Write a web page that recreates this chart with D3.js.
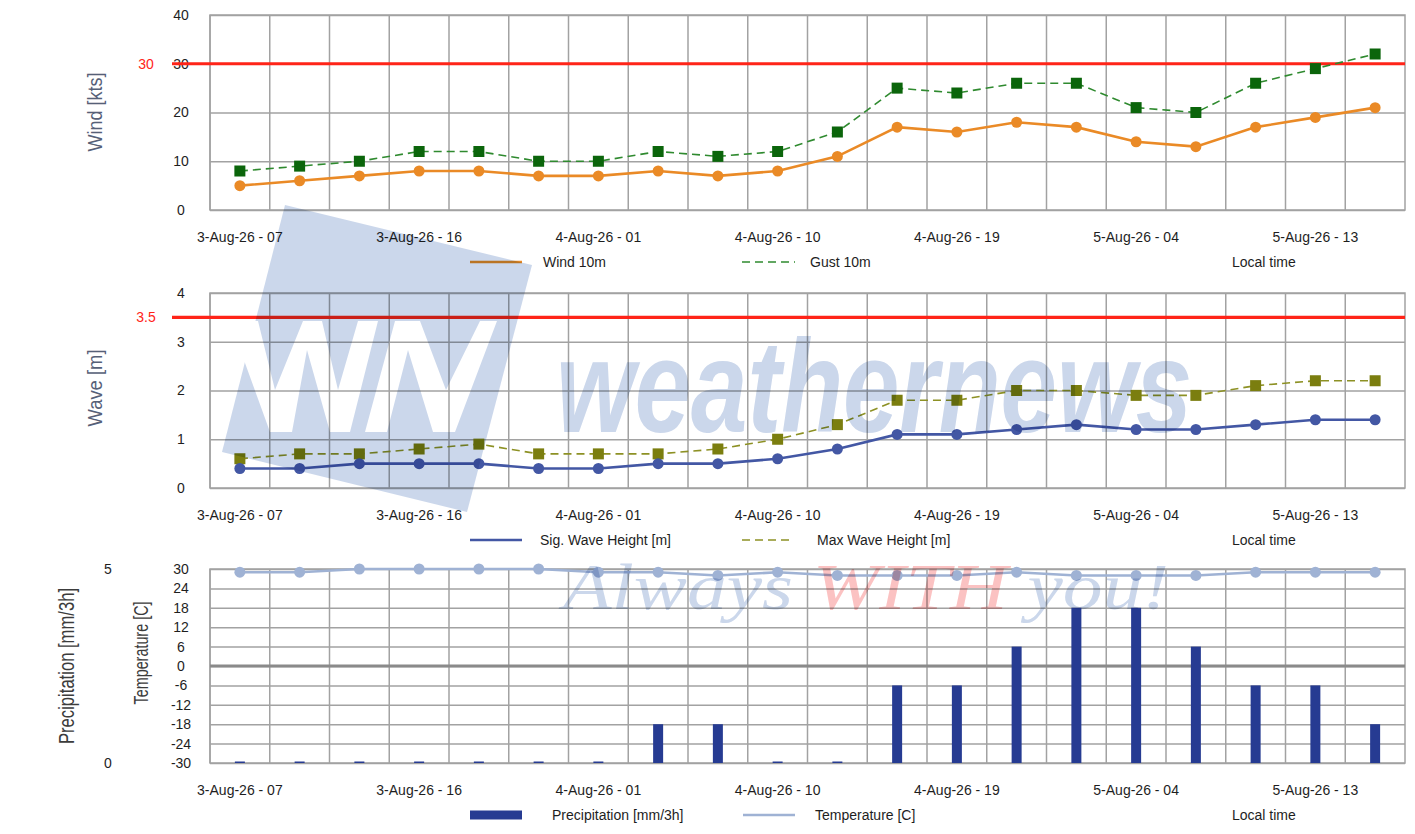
<!DOCTYPE html>
<html>
<head>
<meta charset="utf-8">
<script src="https://cdn.jsdelivr.net/npm/d3@7"></script>
<style>
  body { margin: 0; background: #fff; }
  svg { display: block; font-family: "Liberation Sans", Arial, sans-serif; }
</style>
</head>
<body>
<div id="chart"></div>
<script>
// Forecast time steps (3-hourly, local time)
var times = ["3-Aug-26 - 07", "3-Aug-26 - 10", "3-Aug-26 - 13", "3-Aug-26 - 16", "3-Aug-26 - 19",
    "3-Aug-26 - 22", "4-Aug-26 - 01", "4-Aug-26 - 04", "4-Aug-26 - 07", "4-Aug-26 - 10",
    "4-Aug-26 - 13", "4-Aug-26 - 16", "4-Aug-26 - 19", "4-Aug-26 - 22", "5-Aug-26 - 01",
    "5-Aug-26 - 04", "5-Aug-26 - 07", "5-Aug-26 - 10", "5-Aug-26 - 13", "5-Aug-26 - 16"];

var windSpeed = [5, 6, 7, 8, 8, 7, 7, 8, 7, 8, 11, 17, 16, 18, 17, 14, 13, 17, 19, 21];
var windGust = [8, 9, 10, 12, 12, 10, 10, 12, 11, 12, 16, 25, 24, 26, 26, 21, 20, 26, 29, 32];
var waveSig = [0.4, 0.4, 0.5, 0.5, 0.5, 0.4, 0.4, 0.5, 0.5, 0.6, 0.8, 1.1, 1.1, 1.2, 1.3, 1.2, 1.2, 1.3, 1.4, 1.4];
var waveMax = [0.6, 0.7, 0.7, 0.8, 0.9, 0.7, 0.7, 0.7, 0.8, 1.0, 1.3, 1.8, 1.8, 2.0, 2.0, 1.9, 1.9, 2.1, 2.2, 2.2];
var precip = [0, 0, 0, 0, 0, 0, 0, 1, 1, 0, 0, 2, 2, 3, 4, 4, 3, 2, 2, 1];
var temperature = [29, 29, 30, 30, 30, 30, 29, 29, 28, 29, 28, 28, 28, 29, 28, 28, 28, 29, 29, 29];

var windTicks = [0, 10, 20, 30, 40];
var waveTicks = [0, 1, 2, 3, 4];
var tempTicks = [-30, -24, -18, -12, -6, 0, 6, 12, 18, 24, 30];
var precipTicks = [0, 5];
var windLimit = 30;
var waveLimit = 3.5;

/**** LAYOUT ****/
var width = 1415, height = 834;
var x0 = 210, x1 = 1405;
var gridColor = "#a2a2a2";

var svg = d3.select("#chart").append("svg")
    .attr("width", width)
    .attr("height", height);

var x = d3.scaleBand().domain(times).range([x0, x1]);
function cx(d, i) { return x(times[i]) + x.bandwidth() / 2; }

var labelTimes = times.filter(function(d, i) { return i % 3 === 0; });

// grid, border, x labels for one panel
function panelFrame(y, ticks, top, bottom) {
    var g = svg.append("g");

    // horizontal grid
    g.append("g")
        .attr("transform", "translate(" + x0 + ",0)")
        .call(d3.axisLeft(y).tickValues(ticks).tickSize(-(x1 - x0)).tickFormat(""))
        .call(function(a) { a.select(".domain").remove(); })
        .selectAll("line")
        .attr("stroke", gridColor)
        .attr("stroke-width", 1.5);

    // vertical grid on band edges
    g.selectAll(".vgrid")
        .data(times)
        .enter()
        .append("line")
        .attr("class", "vgrid")
        .attr("x1", function(d) { return x(d); })
        .attr("x2", function(d) { return x(d); })
        .attr("y1", top)
        .attr("y2", bottom)
        .attr("stroke", gridColor)
        .attr("stroke-width", 1.5);

    g.append("rect")
        .attr("x", x0)
        .attr("y", top)
        .attr("width", x1 - x0)
        .attr("height", bottom - top)
        .attr("fill", "none")
        .attr("stroke", gridColor)
        .attr("stroke-width", 1.5);

    // x labels
    g.append("g")
        .attr("transform", "translate(0," + bottom + ")")
        .call(d3.axisBottom(x).tickValues(labelTimes).tickSize(0).tickPadding(22))
        .call(function(a) { a.select(".domain").remove(); })
        .selectAll("text")
        .attr("font-size", 14)
        .attr("font-family", "Liberation Sans, Arial, sans-serif")
        .attr("fill", "#1e1e1e");
    return g;
}

function yLabels(y, ticks, xPos) {
    svg.append("g")
        .selectAll("text")
        .data(ticks)
        .enter()
        .append("text")
        .attr("x", xPos)
        .attr("y", function(d) { return y(d); })
        .attr("dy", "0.35em")
        .attr("text-anchor", "middle")
        .attr("font-size", 14)
        .attr("fill", "#1e1e1e")
        .text(function(d) { return d; });
}

function axisTitle(text, xPos, yPos, len, size, color) {
    svg.append("text")
        .attr("transform", "translate(" + xPos + "," + yPos + ") rotate(-90)")
        .attr("text-anchor", "middle")
        .attr("dy", "0.35em")
        .attr("font-size", size)
        .attr("textLength", len)
        .attr("lengthAdjust", "spacingAndGlyphs")
        .attr("fill", color)
        .text(text);
}

function limitLine(y, v) {
    svg.append("line")
        .attr("x1", 172)
        .attr("x2", x1)
        .attr("y1", y(v))
        .attr("y2", y(v))
        .attr("stroke", "#ff2418")
        .attr("stroke-width", 3.2);
    svg.append("text")
        .attr("x", 146)
        .attr("y", y(v))
        .attr("dy", "0.35em")
        .attr("text-anchor", "middle")
        .attr("font-size", 14)
        .attr("fill", "#ff2418")
        .text(v);
}

function seriesLine(y, values, color, widthPx, dash) {
    var line = d3.line()
        .x(function(d, i) { return cx(d, i); })
        .y(function(d) { return y(d); });
    svg.append("path")
        .datum(values)
        .attr("d", line)
        .attr("fill", "none")
        .attr("stroke", color)
        .attr("stroke-width", widthPx)
        .attr("stroke-dasharray", dash || null);
}

function circles(y, values, color, r) {
    svg.append("g")
        .selectAll("circle")
        .data(values)
        .enter()
        .append("circle")
        .attr("cx", function(d, i) { return cx(d, i); })
        .attr("cy", function(d) { return y(d); })
        .attr("r", r)
        .attr("fill", color);
}

function squares(y, values, color, s) {
    svg.append("g")
        .selectAll("rect")
        .data(values)
        .enter()
        .append("rect")
        .attr("x", function(d, i) { return cx(d, i) - s / 2; })
        .attr("y", function(d) { return y(d) - s / 2; })
        .attr("width", s)
        .attr("height", s)
        .attr("fill", color);
}

function legend(yPos, items) {
    var g = svg.append("g");
    items.forEach(function(it) {
        if (it.type === "bar") {
            g.append("rect")
                .attr("x", it.lx0)
                .attr("y", yPos - 4.5)
                .attr("width", it.lx1 - it.lx0)
                .attr("height", 9)
                .attr("fill", it.color);
        } else {
            g.append("line")
                .attr("x1", it.lx0)
                .attr("x2", it.lx1)
                .attr("y1", yPos)
                .attr("y2", yPos)
                .attr("stroke", it.color)
                .attr("stroke-width", it.w)
                .attr("stroke-dasharray", it.dash || null);
        }
        g.append("text")
            .attr("x", it.tx)
            .attr("y", yPos)
            .attr("dy", "0.35em")
            .attr("font-size", 14)
            .attr("fill", "#1e1e1e")
            .text(it.label);
    });
    g.append("text")
        .attr("x", 1232)
        .attr("y", yPos)
        .attr("dy", "0.35em")
        .attr("font-size", 14)
        .attr("fill", "#1e1e1e")
        .text("Local time");
}

/**** WIND ****/
var yWind = d3.scaleLinear().domain([0, 40]).range([210, 15]);
panelFrame(yWind, windTicks, 15, 210);
yLabels(yWind, windTicks, 181);
axisTitle("Wind [kts]", 95, 112, 79, 20, "#566077");
limitLine(yWind, windLimit);
seriesLine(yWind, windGust, "#2f8a2f", 1.6, "8,5");
squares(yWind, windGust, "#0b650b", 11);
seriesLine(yWind, windSpeed, "#ea8a26", 2.6);
circles(yWind, windSpeed, "#ea8a26", 5.5);
legend(262, [
    {type: "line", lx0: 470, lx1: 522, color: "#ea8a26", w: 2.6, tx: 543, label: "Wind 10m"},
    {type: "line", lx0: 742, lx1: 795, color: "#2f8a2f", w: 1.6, dash: "8,5", tx: 810, label: "Gust 10m"}
]);

/**** WAVE ****/
var yWave = d3.scaleLinear().domain([0, 4]).range([488, 293]);
panelFrame(yWave, waveTicks, 293, 488);
yLabels(yWave, waveTicks, 181);
axisTitle("Wave [m]", 95, 388, 77, 20, "#566077");
limitLine(yWave, waveLimit);
seriesLine(yWave, waveMax, "#8d9124", 1.6, "8,5");
squares(yWave, waveMax, "#7b7e0f", 11);
seriesLine(yWave, waveSig, "#4357a4", 2.6);
circles(yWave, waveSig, "#4357a4", 5.5);
legend(540, [
    {type: "line", lx0: 470, lx1: 522, color: "#4357a4", w: 2.6, tx: 540, label: "Sig. Wave Height [m]"},
    {type: "line", lx0: 742, lx1: 794, color: "#8d9124", w: 1.6, dash: "8,5", tx: 817, label: "Max Wave Height [m]"}
]);

/**** PRECIPITATION & TEMPERATURE ****/
var yTemp = d3.scaleLinear().domain([-30, 30]).range([763, 569]);
var yPrecip = d3.scaleLinear().domain([0, 5]).range([763, 569]);
panelFrame(yTemp, tempTicks, 569, 763);

// zero line of temperature axis
svg.append("line")
    .attr("x1", x0)
    .attr("x2", x1)
    .attr("y1", yTemp(0))
    .attr("y2", yTemp(0))
    .attr("stroke", "#8a8a8a")
    .attr("stroke-width", 3);

yLabels(yTemp, tempTicks, 181);
yLabels(yPrecip, precipTicks, 108);
axisTitle("Precipitation [mm/3h]", 66, 666, 156, 22, "#3c3c3c");
axisTitle("Temperature [C]", 141, 653, 103, 21, "#3c3c3c");

var barW = 10;
svg.append("g")
    .selectAll("rect")
    .data(precip)
    .enter()
    .append("rect")
    .attr("x", function(d, i) { return cx(d, i) - barW / 2; })
    .attr("y", function(d) { return Math.min(yPrecip(d), yPrecip(0) - 1.5); })
    .attr("width", barW)
    .attr("height", function(d) { return Math.max(yPrecip(0) - yPrecip(d), 1.5); })
    .attr("fill", "#263b92");

seriesLine(yTemp, temperature, "#9fb2d4", 2.6);
circles(yTemp, temperature, "#9fb2d4", 5.5);
legend(815, [
    {type: "bar", lx0: 470, lx1: 522, color: "#263b92", tx: 552, label: "Precipitation [mm/3h]"},
    {type: "line", lx0: 743, lx1: 795, color: "#9fb2d4", w: 2.6, tx: 815, label: "Temperature [C]"}
]);

/**** WATERMARK ****/
var defs = svg.append("defs");
var mask = defs.append("mask").attr("id", "wnMask");
mask.append("polygon")
    .attr("points", "285,205 532,265 467,512 222,452")
    .attr("fill", "#fff");
// W and N cut out of the logo block
mask.append("polygon")
    .attr("points", "236,321 258,321 275,390 303,321 322,321 338,390 358,321 378,321 350,432 330,432 307,350 292,432 270,432 245,363")
    .attr("fill", "#000");
mask.append("polygon")
    .attr("points", "395,321 420,321 446,390 480,321 497,321 455,432 433,432 408,350 387,432 365,432")
    .attr("fill", "#000");

var wm = svg.append("g").style("mix-blend-mode", "multiply");
wm.append("rect")
    .attr("x", 200)
    .attr("y", 190)
    .attr("width", 350)
    .attr("height", 340)
    .attr("fill", "#cbd7eb")
    .attr("mask", "url(#wnMask)");
wm.append("text")
    .attr("x", 556)
    .attr("y", 432)
    .attr("font-size", 132)
    .attr("font-weight", "bold")
    .attr("font-style", "italic")
    .attr("textLength", 636)
    .attr("lengthAdjust", "spacingAndGlyphs")
    .attr("fill", "#cbd7eb")
    .text("weathernews");
var slogan = wm.append("text")
    .attr("x", 563)
    .attr("y", 609)
    .attr("font-family", "Liberation Serif, DejaVu Serif, serif")
    .attr("font-size", 66)
    .attr("font-style", "italic")
    .attr("textLength", 606)
    .attr("lengthAdjust", "spacingAndGlyphs");
slogan.append("tspan").attr("fill", "#cbd7eb").text("Always ");
slogan.append("tspan").attr("fill", "#fbc2c2").text("WITH");
slogan.append("tspan").attr("fill", "#cbd7eb").text(" you!");
</script>
</body>
</html>
